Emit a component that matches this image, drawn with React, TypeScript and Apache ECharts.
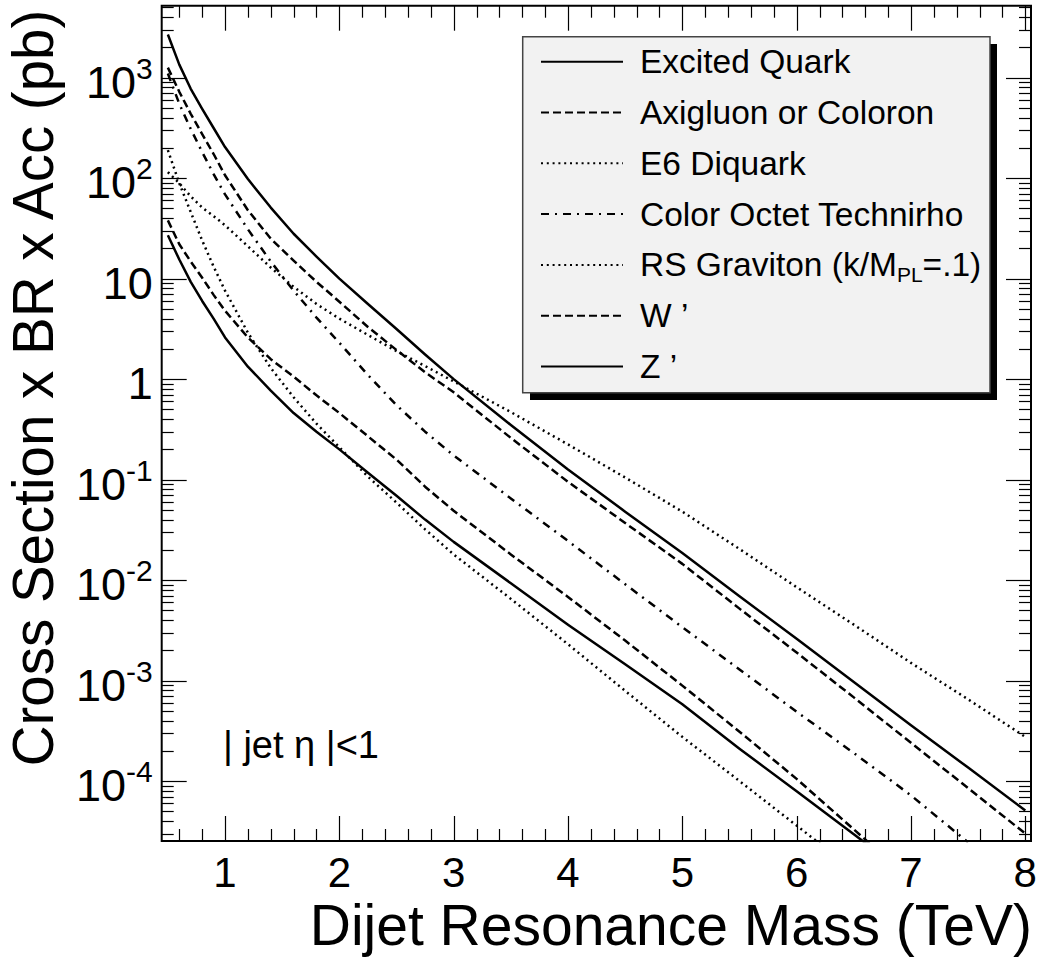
import React, { useEffect, useRef } from "react";
import * as echarts from "echarts";

// Resonance mass grid (TeV) shared by every model curve
const MASS_TEV = [
  0.5, 0.6, 0.7, 0.8, 0.9, 1.0, 1.2, 1.4, 1.6, 1.8, 2.0, 2.25, 2.5, 2.75, 3.0,
  3.5, 4.0, 4.5, 5.0, 5.5, 6.0, 6.5, 7.0, 7.5, 8.0,
];

// Cross section x BR x Acc (pb), |jet eta| < 1
const EXCITED_QUARK = [
  2690, 1350, 776, 490, 316, 204, 98, 51, 28, 16.6, 10, 5.6, 3.16, 1.76, 1.0,
  0.35, 0.126, 0.048, 0.0186, 0.0069, 0.0026, 9.7e-4, 3.6e-4, 1.36e-4, 5.1e-5,
];
const AXIGLUON = [
  1260, 724, 437, 275, 174, 107, 48, 25, 15.1, 9.3, 5.9, 3.3, 1.95, 1.17, 0.74,
  0.26, 0.095, 0.037, 0.0145, 0.0052, 0.0019, 6.8e-4, 2.4e-4, 8.5e-5, 3.0e-5,
];
const E6_DIQUARK = [
  115, 89, 66, 51, 42, 34, 21, 12.9, 8.3, 5.6, 4.0, 2.75, 1.9, 1.35, 0.95,
  0.47, 0.224, 0.105, 0.048, 0.0204, 0.0085, 0.0036, 0.0015, 6.5e-4, 2.75e-4,
];
const TECHNIRHO = [
  1100, 550, 309, 182, 110, 69, 31, 14.8, 7.6, 4.1, 2.3, 1.1, 0.55, 0.3, 0.174,
  0.065, 0.0245, 0.0091, 0.0034, 0.00129, 4.9e-4, 1.9e-4, 7.2e-5, 2.45e-5, null,
];
const RS_GRAVITON = [
  190, 89, 46, 24, 13.2, 7.6, 2.9, 1.29, 0.66, 0.36, 0.21, 0.107, 0.059, 0.032,
  0.018, 0.0065, 0.0023, 7.9e-4, 2.75e-4, 1.0e-4, 3.6e-5, 1.3e-5, null, null, null,
];
const W_PRIME = [
  38, 22, 14.8, 10.2, 6.9, 4.8, 2.6, 1.58, 1.06, 0.69, 0.46, 0.27, 0.158, 0.085,
  0.049, 0.018, 0.0068, 0.0025, 8.9e-4, 3.1e-4, 1.05e-4, 3.3e-5, 1.05e-5, null, null,
];
const Z_PRIME = [
  27, 15.5, 9.3, 6.0, 4.0, 2.6, 1.33, 0.77, 0.46, 0.3, 0.2, 0.117, 0.069, 0.04,
  0.024, 0.0093, 0.0036, 0.00145, 5.8e-4, 2.1e-4, 7.9e-5, 2.95e-5, 1.1e-5, null, null,
];

const RS_NAME = "RS Graviton (k/MPL=.1)";
const SERIES_NAMES = [
  "Excited Quark",
  "Axigluon or Coloron",
  "E6 Diquark",
  "Color Octet Technirho",
  RS_NAME,
  "W \u2019",
  "Z \u2019",
];

// Axis ranges
const X_MIN = 0.446;
const X_MAX = 8.05;
const Y_MIN = 2.53e-5;
const Y_MAX = 5210;

// Tick positions
const X_MAJOR_TICKS = [1, 2, 3, 4, 5, 6, 7, 8];
const X_MINOR_STEP = 0.2;
const Y_DECADES = [-5, -4, -3, -2, -1, 0, 1, 2, 3];
const Y_MINOR_MULTIPLIERS = [2, 3, 4, 5, 6, 7, 8, 9];

const FONT = "'Liberation Sans', Arial, Helvetica, sans-serif";
const MAJOR_LEN = 25;
const MINOR_LEN = 12;
const LINE_WIDTH = 2.5;

const DASHED = [8, 4];
const DOTTED = [2, 3.8];
const DASH_DOT = [8, 6, 2, 6];

function buildXTicks(): number[][] {
  const ticks: number[][] = X_MAJOR_TICKS.map((v) => [v, Y_MIN, 1]);
  for (let k = 1; k * X_MINOR_STEP <= X_MAX + 1e-9; k++) {
    const v = Math.round(k * X_MINOR_STEP * 1000) / 1000;
    if (v < X_MIN || Math.abs(v - Math.round(v)) < 1e-6) continue;
    ticks.push([v, Y_MIN, 0]);
  }
  return ticks;
}

function buildYTicks(): number[][] {
  const ticks: number[][] = [];
  Y_DECADES.forEach((e) => {
    const base = Math.pow(10, e);
    if (base >= Y_MIN && base <= Y_MAX) ticks.push([X_MIN, base, 1]);
    Y_MINOR_MULTIPLIERS.forEach((m) => {
      const v = m * base;
      if (v >= Y_MIN && v <= Y_MAX) ticks.push([X_MIN, v, 0]);
    });
  });
  return ticks;
}

function lineSeries(name: string, values: (number | null)[], dash: any) {
  return {
    name,
    type: "line",
    data: MASS_TEV.map((m, i) => [m, values[i]]).filter((p) => p[1] != null),
    symbol: "none",
    showSymbol: false,
    clip: true,
    silent: true,
    z: 2,
    lineStyle: { color: "#000", width: LINE_WIDTH, type: dash, cap: "butt", join: "round" },
    itemStyle: { color: "#000" },
    emphasis: { disabled: true },
  };
}

function tickSeries(data: number[][], axis: "x" | "y") {
  return {
    type: "custom",
    coordinateSystem: "cartesian2d",
    silent: true,
    clip: false,
    z: 3,
    dimensions: ["x", "y", "major"],
    encode: { x: 0, y: 1 },
    data,
    renderItem: (params: any, api: any) => {
      const cs = params.coordSys;
      const len = api.value(2) ? MAJOR_LEN : MINOR_LEN;
      const style = { stroke: "#000", lineWidth: 1.2 };
      if (axis === "x") {
        const x = Math.round(api.coord([api.value(0), Y_MIN])[0]) + 0.5;
        const top = cs.y;
        const bottom = cs.y + cs.height;
        return {
          type: "group",
          children: [
            { type: "line", shape: { x1: x, y1: bottom, x2: x, y2: bottom - len }, style },
            { type: "line", shape: { x1: x, y1: top, x2: x, y2: top + len }, style },
          ],
        };
      }
      const y = Math.round(api.coord([X_MIN, api.value(1)])[1]) + 0.5;
      const left = cs.x;
      const right = cs.x + cs.width;
      return {
        type: "group",
        children: [
          { type: "line", shape: { x1: left, y1: y, x2: left + len, y2: y }, style },
          { type: "line", shape: { x1: right, y1: y, x2: right - len, y2: y }, style },
        ],
      };
    },
  };
}

function yLabel(v: number): string {
  const lg = Math.log10(v);
  const e = Math.round(lg);
  if (Math.abs(lg - e) > 0.01) return "";
  if (e === 0) return "{b|1}";
  if (e === 1) return "{b|10}";
  return "{b|10}{s|" + e + "}";
}

export default function App() {
  const ref = useRef<HTMLDivElement>(null);

  useEffect(() => {
    if (!ref.current) return;
    const chart = echarts.init(ref.current, undefined, { renderer: "svg" });

    const option: any = {
      animation: false,
      backgroundColor: "#fff",
      textStyle: { fontFamily: FONT },
      grid: {
        show: true,
        left: 161.7,
        top: 5.7,
        width: 869.3,
        height: 835.3,
        borderColor: "#000",
        borderWidth: 2,
        backgroundColor: "transparent",
        containLabel: false,
      },
      xAxis: {
        type: "value",
        min: X_MIN,
        max: X_MAX,
        splitNumber: 8,
        axisLine: { show: false },
        axisTick: { show: false },
        splitLine: { show: false },
        axisLabel: {
          show: true,
          color: "#000",
          fontFamily: FONT,
          fontSize: 42,
          margin: 10,
          showMinLabel: false,
          showMaxLabel: false,
          formatter: (v: number) =>
            Math.abs(v - Math.round(v)) < 1e-6 ? String(Math.round(v)) : "",
        },
      },
      yAxis: {
        type: "log",
        logBase: 10,
        min: Y_MIN,
        max: Y_MAX,
        splitNumber: 10,
        axisLine: { show: false },
        axisTick: { show: false },
        splitLine: { show: false },
        minorTick: { show: false },
        axisLabel: {
          show: true,
          margin: 9,
          padding: [9, 0, 0, 0],
          showMinLabel: false,
          showMaxLabel: false,
          formatter: yLabel,
          rich: {
            b: { fontFamily: FONT, fontSize: 45, lineHeight: 58, color: "#000" },
            s: {
              fontFamily: FONT,
              fontSize: 30,
              lineHeight: 30,
              verticalAlign: "top",
              color: "#000",
            },
          },
        },
      },
      legend: {
        data: SERIES_NAMES,
        orient: "vertical",
        left: 540,
        top: 41.7,
        padding: 0,
        itemWidth: 82,
        itemHeight: 14,
        itemGap: 10.8,
        selectedMode: false,
        z: 10,
        itemStyle: {
          color: "rgba(0,0,0,0)",
          borderColor: "rgba(0,0,0,0)",
          borderWidth: 0,
          opacity: 0,
        },
        textStyle: {
          fontFamily: FONT,
          fontSize: 33.5,
          lineHeight: 40,
          color: "#000",
          padding: [0, 0, 0, 12],
          rich: {
            sub: {
              fontFamily: FONT,
              fontSize: 21,
              lineHeight: 21,
              verticalAlign: "bottom",
              color: "#000",
            },
          },
        },
        formatter: (name: string) =>
          name === RS_NAME ? "RS Graviton (k/M{sub|PL}=.1)" : name,
      },
      graphic: [
        {
          type: "rect",
          z: 5,
          silent: true,
          shape: { x: 530, y: 44, width: 467, height: 356 },
          style: { fill: "#000" },
        },
        {
          type: "rect",
          z: 6,
          silent: true,
          shape: { x: 522.7, y: 36.7, width: 467.3, height: 356 },
          style: { fill: "#f2f2f2", stroke: "#444", lineWidth: 1.5 },
        },
        {
          type: "text",
          z: 6,
          silent: true,
          x: 1032,
          y: 925,
          style: {
            text: "Dijet Resonance Mass (TeV)",
            fontFamily: FONT,
            fontSize: 57,
            fill: "#000",
            align: "right",
            verticalAlign: "middle",
          },
        },
        {
          type: "text",
          z: 6,
          silent: true,
          x: 33,
          y: 388,
          rotation: Math.PI / 2,
          style: {
            text: "Cross Section x BR x Acc (pb)",
            fontFamily: FONT,
            fontSize: 56.5,
            fill: "#000",
            align: "center",
            verticalAlign: "middle",
          },
        },
        {
          type: "text",
          z: 6,
          silent: true,
          x: 223,
          y: 745,
          style: {
            text: "| jet \u03b7 |<1",
            fontFamily: FONT,
            fontSize: 38,
            fill: "#000",
            align: "left",
            verticalAlign: "middle",
          },
        },
      ],
      series: [
        lineSeries(SERIES_NAMES[0], EXCITED_QUARK, "solid"),
        lineSeries(SERIES_NAMES[1], AXIGLUON, DASHED),
        lineSeries(SERIES_NAMES[2], E6_DIQUARK, DOTTED),
        lineSeries(SERIES_NAMES[3], TECHNIRHO, DASH_DOT),
        lineSeries(SERIES_NAMES[4], RS_GRAVITON, DOTTED),
        lineSeries(SERIES_NAMES[5], W_PRIME, DASHED),
        lineSeries(SERIES_NAMES[6], Z_PRIME, "solid"),
        tickSeries(buildXTicks(), "x"),
        tickSeries(buildYTicks(), "y"),
      ],
    };

    chart.setOption(option);
    return () => chart.dispose();
  }, []);

  return (
    <div
      ref={ref}
      style={{ position: "fixed", left: 0, top: 0, width: 1042, height: 965 }}
    />
  );
}
